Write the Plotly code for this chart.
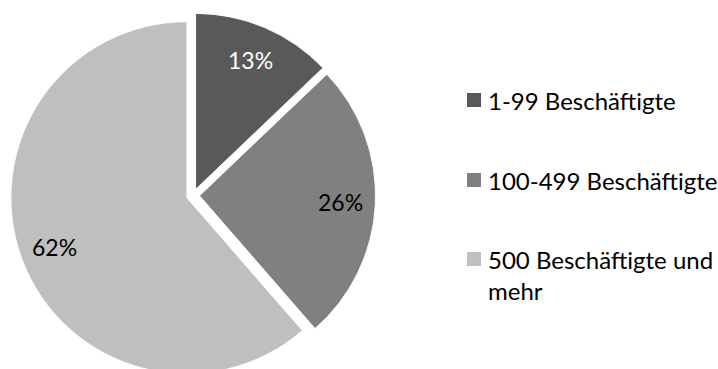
import math
import plotly.graph_objects as go

# Company size classes and their shares (percent)
categories = ["1-99 Beschäftigte", "100-499 Beschäftigte", "500 Beschäftigte und mehr"]
legend_labels = ["1-99 Beschäftigte", "100-499 Beschäftigte", "500 Beschäftigte und<br>mehr"]
shares = [13, 26, 62]

colors = ["#595959", "#808080", "#BFBFBF"]
label_colors = ["white", "black", "black"]

W, H = 718, 378
FONT = "Lato"
PULL = 0.037
DOM_X = [0, 386 / W]
DOM_Y = [0, 0.966]

fig = go.Figure(
    go.Pie(
        labels=categories,
        values=shares,
        sort=False,
        direction="clockwise",
        rotation=0,
        pull=[PULL] * len(shares),
        marker=dict(colors=colors, line=dict(color="white", width=1)),
        textinfo="none",
        hoverinfo="label+value",
        showlegend=False,
        domain=dict(x=DOM_X, y=DOM_Y),
    )
)

# Pie geometry in pixels (same rule plotly uses to size a pulled pie)
box_w = W * (DOM_X[1] - DOM_X[0])
box_h = H * (DOM_Y[1] - DOM_Y[0])
radius = min(box_w, box_h) / (2 + 2 * PULL)
cx = W * (DOM_X[0] + DOM_X[1]) / 2
cy = H * (1 - (DOM_Y[0] + DOM_Y[1]) / 2)

annotations, shapes = [], []

# Percentage labels placed along each slice's bisector
total = sum(shares)
start = 0.0
for v, col in zip(shares, label_colors):
    span = 360.0 * v / total
    mid = math.radians(start + span / 2)
    start += span
    dist = radius * (PULL + 0.8)
    lx = cx + dist * math.sin(mid)
    ly = cy - dist * math.cos(mid)
    annotations.append(dict(
        text=f"{v}%", xref="paper", yref="paper",
        x=lx / W, y=1 - ly / H, xanchor="center", yanchor="middle",
        showarrow=False, font=dict(family=FONT, size=23, color=col),
    ))

# Hand-drawn legend: colour square plus label for each category
row_centers = [100, 180, 275]
square_centers = [100, 180, 259]
for color, label, yc, ys in zip(colors, legend_labels, row_centers, square_centers):
    shapes.append(dict(
        type="rect", xref="paper", yref="paper",
        x0=467 / W, x1=481 / W, y0=1 - (ys + 7) / H, y1=1 - (ys - 7) / H,
        fillcolor=color, line=dict(width=0),
    ))
    annotations.append(dict(
        text=label, xref="paper", yref="paper",
        x=486 / W, y=1 - yc / H, xanchor="left", yanchor="middle",
        align="left", showarrow=False,
        font=dict(family=FONT, size=24, color="black"),
    ))

fig.update_layout(
    width=W, height=H,
    margin=dict(l=0, r=0, t=0, b=0),
    paper_bgcolor="white", plot_bgcolor="white",
    shapes=shapes, annotations=annotations,
)

fig.write_html(
    "out.html",
    post_script="document.documentElement.style.overflow='hidden';document.body.style.overflow='hidden';",
)
